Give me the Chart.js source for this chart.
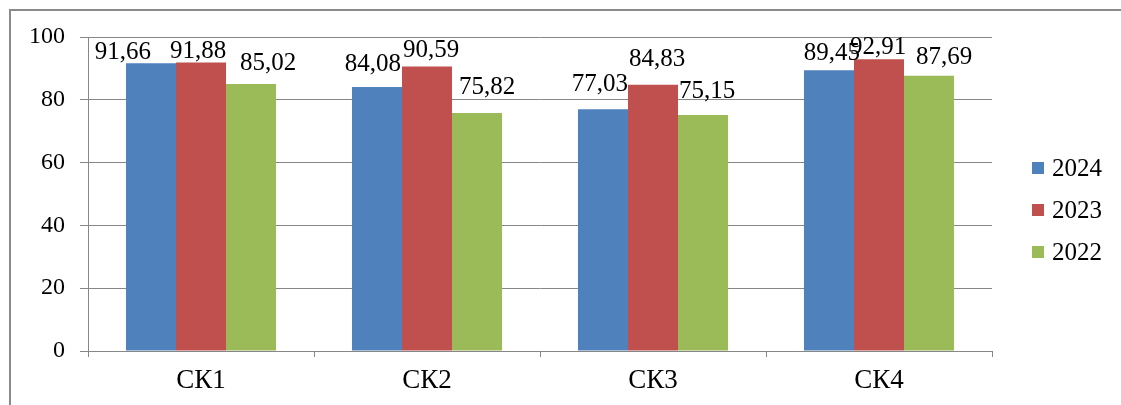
<!DOCTYPE html>
<html>
<head>
<meta charset="utf-8">
<script src="https://cdn.jsdelivr.net/npm/chart.js@4"></script>
<style>
  html, body { margin: 0; padding: 0; background: #fff; }
  #wrap { position: relative; width: 1121px; height: 405px; overflow: hidden; }
  #frame { position: absolute; left: 9px; top: 9px; width: 1120px; height: 400px;
           border-left: 2px solid #8a8a8a; border-top: 2px solid #8a8a8a; box-sizing: border-box; }
  canvas { position: absolute; left: 0; top: 0; }
</style>
</head>
<body>
<div id="wrap">
  <div id="frame"></div>
  <canvas id="c" width="1121" height="405"></canvas>
</div>
<script>
const categories = ['СК1', 'СК2', 'СК3', 'СК4'];
const seriesNames = ['2024', '2023', '2022'];
const values2024 = [91.66, 84.08, 77.03, 89.45];
const values2023 = [91.88, 90.59, 84.83, 92.91];
const values2022 = [85.02, 75.82, 75.15, 87.69];
const yTicks = [0, 20, 40, 60, 80, 100];

const colors = ['#4F81BD', '#C0504D', '#9BBB59'];
const gridColor = '#878787';
const FONT = '"Liberation Serif", "Times New Roman", serif';

// label nudges (style only): [dx, gap above bar] per category, per series
const LABEL_NUDGE = [
  [[-28, 4], [-3, 4], [17, 14]],
  [[-4, 16], [4, 10], [10, 19]],
  [[-3, 18], [4, 19], [4, 17]],
  [[3, 10], [-1, 5], [15, 12]]
];

const fmt = v => v.toFixed(2).replace('.', ',');

const dataLabels = {
  id: 'dataLabels',
  afterDatasetsDraw(chart) {
    const ctx = chart.ctx;
    ctx.save();
    ctx.font = '25px ' + FONT;
    ctx.fillStyle = '#000';
    ctx.textAlign = 'center';
    ctx.textBaseline = 'alphabetic';
    chart.data.datasets.forEach((ds, i) => {
      const meta = chart.getDatasetMeta(i);
      meta.data.forEach((el, j) => {
        const n = LABEL_NUDGE[j][i];
        ctx.fillText(fmt(ds.data[j]), el.x + n[0], el.y - n[1]);
      });
    });
    ctx.restore();
  }
};

const sideLegend = {
  id: 'sideLegend',
  afterDraw(chart) {
    const ctx = chart.ctx;
    ctx.save();
    ctx.font = '25px ' + FONT;
    ctx.textBaseline = 'middle';
    ctx.textAlign = 'left';
    const x = chart.chartArea.right + 40;
    const y0 = 168, step = 42;
    chart.data.datasets.forEach((ds, i) => {
      const y = y0 + i * step;
      ctx.fillStyle = ds.backgroundColor;
      ctx.fillRect(x, y - 6, 12, 12);
      ctx.fillStyle = '#000';
      ctx.fillText(ds.label, x + 20, y + 1);
    });
    ctx.restore();
  }
};

new Chart(document.getElementById('c'), {
  type: 'bar',
  data: {
    labels: categories,
    datasets: [
      { label: seriesNames[0], data: values2024, backgroundColor: colors[0] },
      { label: seriesNames[1], data: values2023, backgroundColor: colors[1] },
      { label: seriesNames[2], data: values2022, backgroundColor: colors[2] }
    ]
  },
  options: {
    responsive: false,
    animation: false,
    devicePixelRatio: 1,
    layout: { padding: { top: 37, right: 129, bottom: 0, left: 0 } },
    datasets: { bar: { categoryPercentage: 0.664, barPercentage: 1.0, borderWidth: 0 } },
    plugins: { legend: { display: false }, tooltip: { enabled: false } },
    scales: {
      x: {
        afterFit(s) { s.height = 54; },
        grid: { display: true, drawOnChartArea: false, drawTicks: true, tickLength: 6, color: gridColor, offset: true },
        border: { color: gridColor, width: 1 },
        ticks: { color: '#000', font: { family: FONT, size: 27 }, padding: 8 }
      },
      y: {
        min: 0, max: 100,
        afterFit(s) { s.width = 88; },
        afterBuildTicks(s) { s.ticks = yTicks.map(v => ({ value: v })); },
        grid: { color: gridColor, tickLength: 8, drawTicks: true },
        border: { color: gridColor, width: 1 },
        ticks: { color: '#000', font: { family: FONT, size: 24 }, padding: 15 }
      }
    }
  },
  plugins: [dataLabels, sideLegend]
});
</script>
</body>
</html>
